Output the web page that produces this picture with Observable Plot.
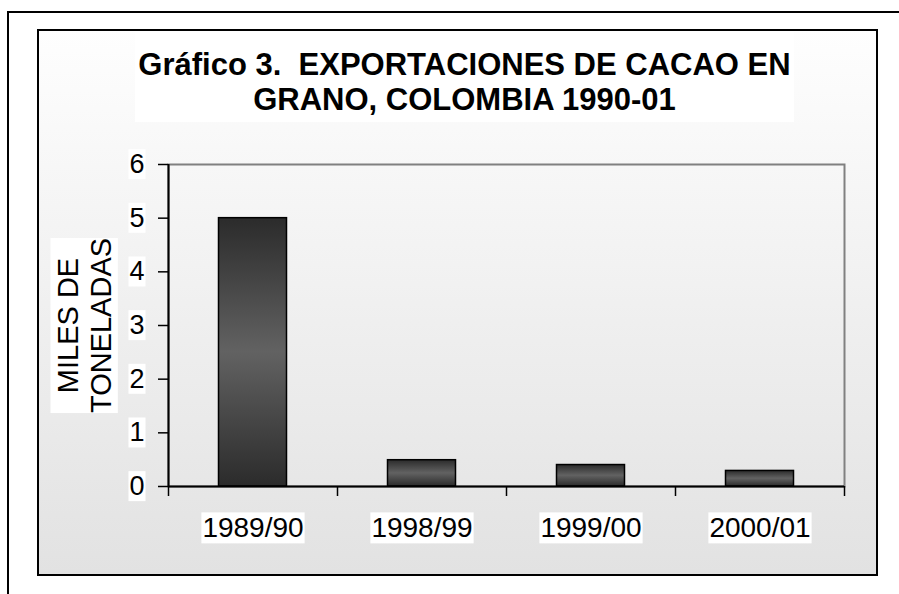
<!DOCTYPE html>
<html><head><meta charset="utf-8">
<script src="https://cdn.jsdelivr.net/npm/d3@7"></script>
<script src="https://cdn.jsdelivr.net/npm/@observablehq/plot@0.6"></script>
<style>
body{margin:0;background:#fff;font-family:"Liberation Sans",Arial,sans-serif;}
#page{position:relative;width:899px;height:594px;overflow:hidden;background:#fff;}
.ol{position:absolute;background:#000;}
#box{position:absolute;left:37px;top:29px;width:841px;height:547px;box-sizing:border-box;border:2px solid #000;background:linear-gradient(#fefefe,#e2e2e2);}
#chart{position:absolute;left:0;top:0;}
#title{position:absolute;left:135px;top:32px;width:659px;height:90px;background:#fff;text-align:center;font-weight:bold;font-size:31px;line-height:35px;padding-top:15px;box-sizing:border-box;white-space:pre;color:#000;}
</style></head>
<body><div id="page">
<div class="ol" style="left:7px;top:11px;width:892px;height:2px"></div>
<div class="ol" style="left:7px;top:11px;width:2px;height:583px"></div>
<div id="box"></div>
<div id="chart"></div>
<div id="title"></div>
</div>
<script>
const categories = ["1989/90", "1998/99", "1999/00", "2000/01"];
const values = [5.0, 0.49, 0.40, 0.29];
const yTicks = [0, 1, 2, 3, 4, 5, 6];
const titleLines = ["Gráfico 3.  EXPORTACIONES DE CACAO EN", "GRANO, COLOMBIA 1990-01"];
const yLabelLines = ["MILES DE", "TONELADAS"];

const data = categories.map((c, i) => ({cat: c, value: values[i]}));
document.getElementById("title").textContent = titleLines.join("\n");

const W = 899, H = 594, mL = 168, mR = 55, mT = 164, mB = 108;
const half = (W - mL - mR) / categories.length / 2;

const svg = Plot.plot({
  width: W, height: H,
  marginLeft: mL, marginRight: mR, marginTop: mT, marginBottom: mB,
  style: {background: "transparent", fontFamily: "'Liberation Sans', Arial, sans-serif", color: "#000"},
  x: {domain: categories, padding: 0},
  y: {domain: [0, 6]},
  marks: [
    Plot.frame({stroke: "#808080", strokeWidth: 2}),
    Plot.barY(data, {x: "cat", y: "value", fill: "url(#barGrad)", stroke: "#000", strokeWidth: 1.5, insetLeft: 50.5, insetRight: 50.5}),
    Plot.ruleY([0], {stroke: "#000", strokeWidth: 2}),
    Plot.ruleX([categories[0]], {dx: -half, stroke: "#000", strokeWidth: 2}),
    Plot.axisY({ticks: yTicks, tickFormat: d => String(d), tickSize: 10, tickPadding: 14, fontSize: 27, strokeWidth: 1.5, label: null}),
    Plot.axisX({tickSize: 10, tickFormat: () => "", dx: -half, strokeWidth: 1.5, label: null}),
    Plot.axisX({ticks: [categories[categories.length - 1]], tickSize: 10, tickFormat: () => "", dx: half, strokeWidth: 1.5, label: null}),
    Plot.axisX({tickSize: 0, tickPadding: 31, fontSize: 28, label: null}),
    Plot.text([yLabelLines.join("\n")], {text: d => d, frameAnchor: "left", textAnchor: "middle", lineAnchor: "middle", rotate: -90, dx: -85, fontSize: 29, lineHeight: 1.15, fill: "#000"})
  ]
});
document.getElementById("chart").appendChild(svg);

const defs = d3.select(svg).insert("defs", ":first-child");
const g = defs.append("linearGradient").attr("id", "barGrad").attr("x1", 0).attr("y1", 0).attr("x2", 0).attr("y2", 1);
[[0, "#2b2b2b"], [0.5, "#626262"], [1, "#2b2b2b"]].forEach(([o, c]) => g.append("stop").attr("offset", o).attr("stop-color", c));

const sr = svg.getBoundingClientRect();
const bg = d3.select(svg).insert("g", "defs + *");
svg.querySelectorAll("text").forEach(t => {
  if (!t.textContent.trim()) return;
  const r = t.getBoundingClientRect();
  bg.append("rect").attr("x", r.left - sr.left - 1).attr("y", r.top - sr.top).attr("width", r.width + 2).attr("height", r.height).attr("fill", "#fff");
});
</script>
</body></html>
